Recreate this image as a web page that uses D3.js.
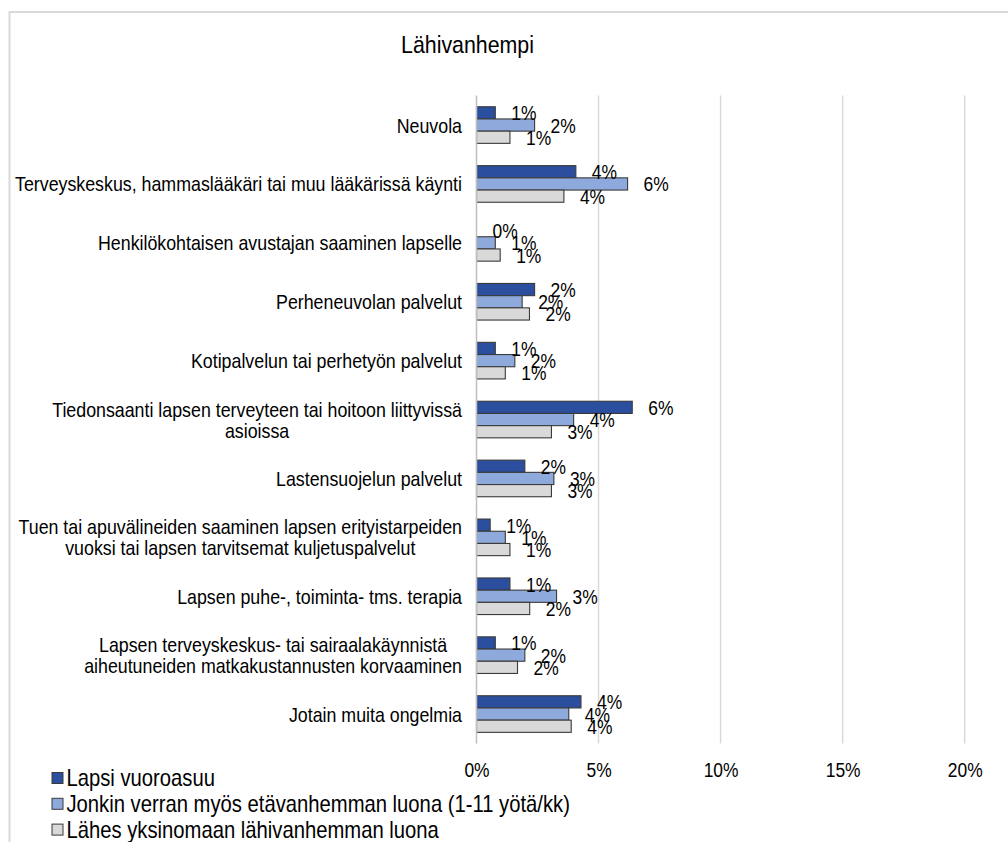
<!DOCTYPE html>
<html>
<head>
<meta charset="utf-8">
<script src="https://cdn.jsdelivr.net/npm/d3@7"></script>
<style>
  html, body { margin: 0; padding: 0; background: #fff; }
  svg { display: block; font-family: "Liberation Sans", Arial, sans-serif; }
</style>
</head>
<body>
<svg id="chart" width="1008" height="842"></svg>
<script>
const title = "Lähivanhempi";
const categories = [
  ["Neuvola"],
  ["Terveyskeskus, hammaslääkäri tai muu lääkärissä käynti"],
  ["Henkilökohtaisen avustajan saaminen lapselle"],
  ["Perheneuvolan palvelut"],
  ["Kotipalvelun tai perhetyön palvelut"],
  ["Tiedonsaanti lapsen terveyteen tai hoitoon liittyvissä", "asioissa"],
  ["Lastensuojelun palvelut"],
  ["Tuen tai apuvälineiden saaminen lapsen erityistarpeiden", "vuoksi tai lapsen tarvitsemat kuljetuspalvelut"],
  ["Lapsen puhe-, toiminta- tms. terapia"],
  ["Lapsen terveyskeskus- tai sairaalakäynnistä ", "aiheutuneiden matkakustannusten korvaaminen"],
  ["Jotain muita ongelmia"]
];
const seriesNames = [
  "Lapsi vuoroasuu",
  "Jonkin verran myös etävanhemman luona (1-11 yötä/kk)",
  "Lähes yksinomaan lähivanhemman luona"
];
const vuoroasuu    = [0.77, 4.07, 0.0, 2.38, 0.77, 6.38, 1.98, 0.56, 1.37, 0.77, 4.28];
const etavanhempi  = [2.38, 6.19, 0.77, 1.87, 1.57, 3.98, 3.17, 1.18, 3.28, 1.98, 3.78];
const yksinomaan   = [1.37, 3.58, 0.97, 2.17, 1.18, 3.07, 3.07, 1.37, 2.18, 1.68, 3.88];
const tickValues = [0, 5, 10, 15, 20];
const colors = ["#2B4F9E", "#8EA9DB", "#D9D9D9"];

const seriesValues = [vuoroasuu, etavanhempi, yksinomaan];
const svg = d3.select("#chart");
const SX = 0.83;
const SXCAT = 0.848;

// frame
svg.append("rect").attr("x", 9.5).attr("y", 12).attr("width", 1100).attr("height", 900)
  .attr("fill", "none").attr("stroke", "#d9d9d9").attr("stroke-width", 2);

const x = d3.scaleLinear().domain([0, 20]).range([476.5, 964.7]);
const catKeys = categories.map((c, i) => i);
const y = d3.scaleBand().domain(catKeys).range([95.6, 743.5]).padding(0);
const groupH = 36.6;
const ySub = d3.scaleBand().domain([0, 1, 2]).range([0, groupH]).padding(0);

// gridlines
svg.append("g").selectAll("line").data(tickValues.filter(d => d > 0)).join("line")
  .attr("x1", d => x(d)).attr("x2", d => x(d))
  .attr("y1", 95.6).attr("y2", 743.5)
  .attr("stroke", "#d9d9d9").attr("stroke-width", 1.5);

// bars
const barsG = svg.append("g");
seriesValues.forEach((vals, s) => {
  barsG.append("g").selectAll("rect").data(vals).join("rect")
    .attr("x", x(0))
    .attr("y", (d, i) => y(i) + (y.bandwidth() - groupH) / 2 + ySub(s))
    .attr("width", d => Math.max(0, x(d) - x(0)))
    .attr("height", ySub.bandwidth())
    .attr("fill", colors[s])
    .attr("stroke", d => d > 0 ? "#3a3a3a" : "none")
    .attr("stroke-width", 1.1);
});

// zero axis line
svg.append("line").attr("x1", x(0)).attr("x2", x(0)).attr("y1", 95.6).attr("y2", 743.5)
  .attr("stroke", "#bfbfbf").attr("stroke-width", 1.5);

function sText(parent, px, py, str, size, anchor, sx) {
  const g = parent.append("g").attr("transform", `translate(${px},${py}) scale(${sx},1)`);
  g.append("text").attr("x", 0).attr("y", 0).attr("text-anchor", anchor)
    .attr("font-size", size).attr("fill", "#000").text(str);
  return g;
}

// data labels
const labG = svg.append("g");
seriesValues.forEach((vals, s) => {
  vals.forEach((v, i) => {
    const cy = y(i) + (y.bandwidth() - groupH) / 2 + ySub(s) + ySub.bandwidth() / 2;
    sText(labG, x(v) + 16, cy + 7.5, Math.round(v) + "%", 21, "start", SX);
  });
});

// category labels
const catG = svg.append("g");
categories.forEach((lines, i) => {
  const cy = y(i) + y.bandwidth() / 2;
  const lh = 21;
  const g = catG.append("g").attr("transform", `translate(462,${cy}) scale(${SXCAT},1)`);
  const texts = lines.map((ln, k) => g.append("text")
    .attr("font-size", 21).attr("fill", "#000").attr("text-anchor", "middle")
    .attr("y", (k - (lines.length - 1) / 2) * lh + 7.5).text(ln));
  const w = d3.max(texts, t => t.node().getComputedTextLength());
  texts.forEach(t => t.attr("x", -w / 2));
});

// x axis tick labels
const xAxis = d3.axisBottom(x).tickValues(tickValues).tickFormat(d => d + "%").tickSize(0);
const axG = svg.append("g").attr("transform", "translate(0,743.5)").call(xAxis);
axG.select(".domain").remove();
axG.selectAll(".tick text").each(function (d) {
  const t = d3.select(this);
  t.attr("y", 0).attr("dy", null).attr("font-size", 21).attr("fill", "#000")
    .attr("font-family", "Liberation Sans, Arial, sans-serif")
    .attr("transform", `translate(0,33.5) scale(${SX},1)`);
});

// title
sText(svg, 467.5, 53, title, 24, "middle", 0.89);

// legend
const legG = svg.append("g");
seriesNames.forEach((name, s) => {
  const by = 786 + s * 25.8;
  legG.append("rect").attr("x", 52).attr("y", by - 13.5).attr("width", 11).attr("height", 11)
    .attr("fill", colors[s]).attr("stroke", "#3a3a3a").attr("stroke-width", 1);
  sText(legG, 66.5, by, name, 23, "start", 0.88);
});
</script>
</body>
</html>
